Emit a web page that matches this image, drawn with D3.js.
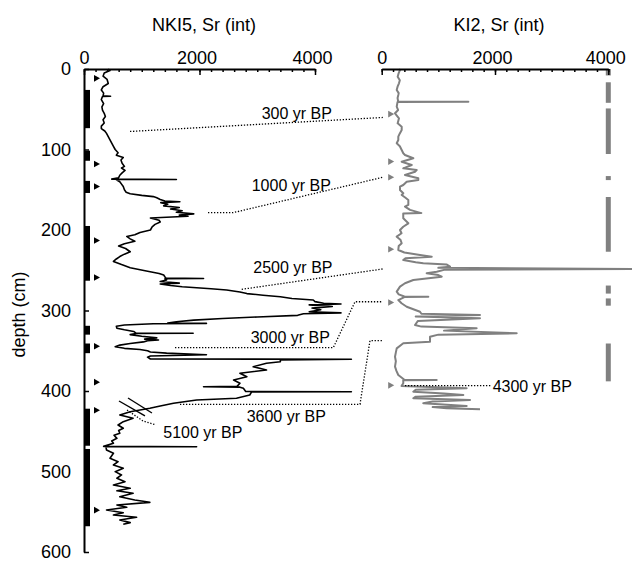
<!DOCTYPE html>
<html><head><meta charset="utf-8">
<script src="https://cdn.jsdelivr.net/npm/d3@7"></script>
<style>body{margin:0;background:#fff}svg{display:block}text{font-family:"Liberation Sans",Arial,sans-serif}</style>
</head><body><svg id="c" width="632" height="564"></svg>
<script>
// ---- data ----
const xTicksMajor = [0, 2000, 4000];
const xTicksMinor = d3.range(0, 4001, 200);
const yTicks = [0, 100, 200, 300, 400, 500, 600];

const nki5Depth = [0,2,5,9,13,18,22,26,30,33.4,33.8,34.2,38,43,47,51,55,59,63,67,71,74,77,80,84,88,92,96,100,104,107,110,113,117,121,123,126,129,132,135,136.8,137.2,137.6,140,143,146,150,153,155,157,158.5,160,162,164,165,166,168,170,172,174,176,178,180,181.5,183,185,188,190,193,196,200,203,206,208,211,214,217,220,223,227,230,233,236,239,243,247,251,254,256,258,259.8,260.2,260.6,262,264,266,267,269,270.5,273,274.5,277,279,281,283,285,287,289,291,292,293,295,297,299,301.5,303,304,306,308,310,312,314,315.5,316,316.5,318,319.5,322,324,326,328,328.3,328.6,330,332,334,335.5,336.6,337.5,339,341,343,345,347,348.5,350,351.5,353,355,356.5,358,360.2,360.6,361.5,363.6,365.6,369.8,373.9,378,382.2,386.3,390.4,394.3,394.7,395.2,396.6,400.5,400.9,401.3,405,409,411.2,415.3,418.6,421.5,425.7,429.8,433.9,438.1,442.2,446.3,449,452.5,455,458.8,462,465,468.8,469.2,469.6,473.3,477.4,483.6,487.8,491.9,496,500.2,504.3,508.4,512.7,516.8,520.9,523.9,527.1,531.3,535.4,538.3,541.6,544.5,547.8,551.2,554,556.9,560.2,563.5,565.5];
const nki5Sr = [420,450,350,330,400,420,330,300,340,330,460,320,300,340,310,320,350,370,330,350,300,300,360,390,420,450,480,510,540,590,560,680,640,660,700,650,710,660,620,600,480,1600,560,620,650,680,700,730,800,1000,1200,1260,1320,1400,1660,1330,1450,1380,1650,1500,1700,1600,1900,1650,1800,1150,1300,1320,1230,1180,1150,970,880,740,800,880,700,600,720,800,700,620,560,510,650,800,1080,1300,1380,1400,1420,2070,1400,1430,1320,1650,1320,1500,1700,2200,2470,2700,2820,3100,3400,3600,3970,4000,4150,4450,3900,4300,3950,4100,3900,4450,3800,3700,3000,2400,1900,1600,1450,2120,1200,700,560,570,700,860,900,1890,900,800,1000,1260,1050,1290,1100,1030,800,620,540,700,970,1100,1150,1430,2120,1150,1100,1150,4630,3400,3400,3160,2930,3160,2700,2820,2590,2700,2650,2070,2700,2760,2800,4630,2900,2870,2640,1950,1550,1320,1140,800,620,850,680,590,680,600,620,520,570,480,510,340,1950,380,390,510,450,590,510,680,540,650,570,710,510,800,570,850,620,880,1140,570,740,390,680,510,910,620,800,680];

const ki2Depth = [0,1.2,5,9.6,14,17.8,22,26.1,30,32.3,36,40.3,40.6,40.9,46.8,51,55,61.2,67.5,71.7,75.8,80,84.1,88.2,92.3,96,100.6,104.7,106.8,110.9,115.2,119.3,123.4,125.5,127.6,131.7,135.8,137.9,140,144.1,146.2,150.3,154.4,156.5,160,162.7,168.9,171,175,179,179.5,185.5,191.7,196,200,204,208.3,212,216.5,220,224.8,228,231,233.2,235,237.3,240,241.4,243,245.6,247,248.4,249.5,251.8,253.8,256,258,262.1,266.2,270.4,276.6,280,282.6,282.9,283.3,287,291,295.3,301.5,304,305.6,307.5,309.7,313,318,320,322.1,325,328.3,330,332.5,338.8,340.7,347,352,357.4,363,369.8,375,380.1,386,386.3,386.6,390.4,393.8,396.6,398.5,400.9,403,405,407,409,411.2,413,415.3,418.6,420,421.5,422.7];
const ki2Sr = [330,323,300,282,320,305,280,265,300,293,280,290,1530,280,265,290,235,305,282,353,353,320,293,293,265,320,353,381,411,558,353,530,381,618,588,411,646,646,441,381,323,323,381,353,420,470,470,411,500,700,380,381,470,380,323,350,265,330,353,300,293,400,676,883,420,381,600,734,1150,1206,1000,4600,1100,971,794,1000,1059,558,411,323,265,300,400,823,400,293,350,441,676,700,1735,600,1735,640,588,700,1676,1100,2383,1000,853,853,381,265,250,235,250,235,260,293,400,971,380,381,350,1500,600,558,1100,1441,600,558,1559,900,734,1500,900,1147,1735];

const nki5Bars = [[26,73.5],[101.5,114],[139,154],[195,263],[319,330],[341,353],[422,468],[472,568]];
const ki2Bars = [[0,8],[16.5,42],[49,105.6],[133,138],[159,227],[269,279],[285,294],[341,388]];
const nki5Markers = [11.6,118,146,213,259,344.5,389,424,548];
const ki2Markers = [56,115,134.5,224,290,393];

// age tie lines: points [panel, value, depth]
const ties = [
  {label:"300 yr BP",  lab:["L",3077,62.1],  pts:[["L",797,77.6],["R",20,60.2]]},
  {label:"1000 yr BP", lab:["L",2904,151.6], pts:[["L",2147,178.5],["L",2580,178.5],["R",20,134.5]]},
  {label:"2500 yr BP", lab:["L",2932,253],   pts:[["L",2731,273.7],["R",20,248.4]]},
  {label:"3000 yr BP", lab:["L",2887,340.7], pts:[["L",1576,346.2],["L",4317,346.2],["L",4693,289.1],["R",20,289.1]]},
  {label:"3600 yr BP", lab:["L",2817,438.1], pts:[["L",1662,416.5],["L",4779,416.5],["L",4952,337.5],["R",5,337.5]]},
  {label:"4300 yr BP", lab:["R",1959,400.9], pts:[["R",411,393.4],["R",1942,393.4]]},
  {label:"5100 yr BP", lab:["L",1373,458.4], pts:[["L",745,423.6],["L",1022,437.3],["L",1247,442.2]]}
];
const slashes = [[[762,408.7],[1177,427.3]],[[606,412.4],[1056,431]]];

// ---- scales ----
const W = 632, H = 564;
const y = d3.scaleLinear().domain([0,600]).range([69,552]);
const xL = d3.scaleLinear().domain([0,4000]).range([84,315]);
const xR = d3.scaleLinear().domain([0,4000]).range([381.7,608.3]);
const sc = p => p[0]==="L" ? xL(p[1]) : xR(p[1]);

const svg = d3.select("#c");
const FONT = '"Liberation Sans",Arial,sans-serif';
const GRAY = "#808080";

// bars
svg.append("g").selectAll("rect").data(nki5Bars).join("rect")
  .attr("x", xL(0)).attr("width", 6)
  .attr("y", d=>y(d[0])).attr("height", d=>y(d[1])-y(d[0])).attr("fill","#000");
svg.append("g").selectAll("rect").data(ki2Bars).join("rect")
  .attr("x", xR(4000)-2.5).attr("width", 5)
  .attr("y", d=>y(d[0])).attr("height", d=>y(d[1])-y(d[0])).attr("fill",GRAY);

// series
const lineL = d3.line().x(i=>xL(nki5Sr[i])).y(i=>y(nki5Depth[i]));
const lineR = d3.line().x(i=>xR(ki2Sr[i])).y(i=>y(ki2Depth[i]));
svg.append("path").attr("d", lineR(d3.range(ki2Depth.length)))
  .attr("fill","none").attr("stroke",GRAY).attr("stroke-width",2).attr("stroke-linejoin","round");
svg.append("path").attr("d", lineL(d3.range(nki5Depth.length)))
  .attr("fill","none").attr("stroke","#000").attr("stroke-width",1.6).attr("stroke-linejoin","round");

// slashes
svg.append("g").selectAll("line").data(slashes).join("line")
  .attr("x1",d=>xL(d[0][0])).attr("y1",d=>y(d[0][1]))
  .attr("x2",d=>xL(d[1][0])).attr("y2",d=>y(d[1][1]))
  .attr("stroke","#000").attr("stroke-width",1.4);

// markers
const tri = "M0,-3.3L6,0L0,3.3Z";
svg.append("g").selectAll("path").data(nki5Markers).join("path")
  .attr("d",tri).attr("transform",d=>`translate(${xL(0)+10},${y(d)})`).attr("fill","#000");
svg.append("g").selectAll("path").data(ki2Markers).join("path")
  .attr("d",tri).attr("transform",d=>`translate(${xR(0)+6.5},${y(d)})`).attr("fill",GRAY);

// tie lines
const tieLine = d3.line().x(p=>sc(p)).y(p=>y(p[2]));
const tg = svg.append("g");
ties.forEach(t=>{
  tg.append("path").attr("d",tieLine(t.pts)).attr("fill","none")
    .attr("stroke","#000").attr("stroke-width",1.3).attr("stroke-dasharray","1.3,1.7");
  tg.append("text").attr("x",sc(t.lab)).attr("y",y(t.lab[2]))
    .attr("font-size",16).attr("font-family",FONT).attr("fill","#000").text(t.label);
});

// axes
function styleAxis(g, fs){
  g.attr("font-family",FONT).attr("font-size",fs);
  g.select(".domain").attr("stroke","#000").attr("stroke-width",2);
  g.selectAll(".tick line").attr("stroke","#000").attr("stroke-width",1.5);
  g.selectAll(".tick text").attr("fill","#000");
}
[xL, xR].forEach(sx=>{
  const gm = svg.append("g").attr("transform","translate(0,69)")
    .call(d3.axisTop(sx).tickValues(xTicksMinor).tickSizeInner(-3).tickSizeOuter(0).tickFormat(""));
  styleAxis(gm,18);
  gm.select(".domain").remove();
  const g = svg.append("g").attr("transform","translate(0,69)")
    .call(d3.axisTop(sx).tickValues(xTicksMajor).tickSizeInner(-6).tickSizeOuter(0).tickPadding(5).tickFormat(d3.format("d")));
  styleAxis(g,18);
  g.selectAll(".tick text").attr("dx", d=> d===0 ? 0 : -3);
});
const gy = svg.append("g").attr("transform",`translate(${xL(0)},0)`)
  .call(d3.axisLeft(y).tickValues(yTicks).tickSizeInner(-5).tickSizeOuter(0).tickPadding(13));
styleAxis(gy,18);

// titles
svg.append("text").attr("x",204).attr("y",31).attr("text-anchor","middle")
  .attr("font-size",18).attr("font-family",FONT).text("NKI5, Sr (int)");
svg.append("text").attr("x",499).attr("y",31).attr("text-anchor","middle")
  .attr("font-size",18).attr("font-family",FONT).text("KI2, Sr (int)");
svg.append("text").attr("transform",`translate(25,${(y(0)+y(600))/2+4}) rotate(-90)`)
  .attr("text-anchor","middle").attr("font-size",18).attr("font-family",FONT).text("depth (cm)");
</script></body></html>
